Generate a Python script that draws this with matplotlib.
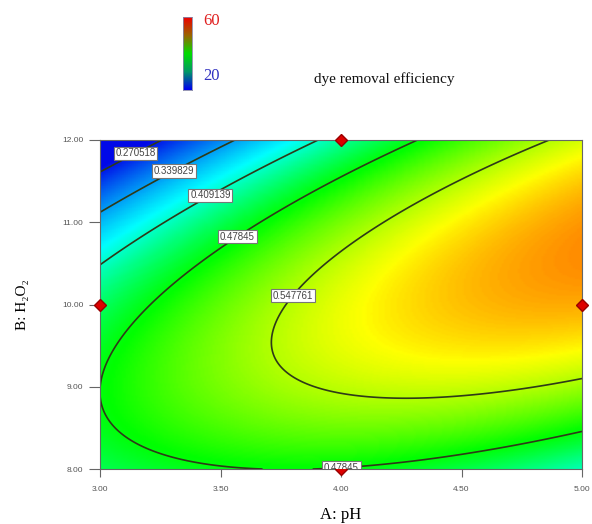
"""Contour plot of dye removal efficiency vs A: pH and B: H2O2 (quadratic response surface)."""

import numpy as np
import matplotlib

matplotlib.use("Agg")
import matplotlib.pyplot as plt
from matplotlib.colors import LinearSegmentedColormap, Normalize

# quadratic model in coded units: a = pH - 4, b = (H2O2 - 10) / 2
# terms: intercept, a, b, ab, a^2, b^2
MODEL_COEF = [0.5681, 0.0793, -0.0252, 0.0984, -0.0431, -0.1165]
PH_RANGE = [3.0, 5.0]
H2O2_RANGE = [8.0, 12.0]
LEVELS = [0.270518, 0.339829, 0.409139, 0.47845, 0.547761]
LABEL_POS = [(3.14, 11.88), (3.30, 11.66), (3.45, 11.37), (3.56, 10.87), (3.77, 10.18), (4.0, 8.11)]
DESIGN_PH = [3.0, 4.0, 5.0, 4.0]
DESIGN_H2O2 = [10.0, 12.0, 10.0, 8.0]
X_TICKS = [3.0, 3.5, 4.0, 4.5, 5.0]
Y_TICKS = [8.0, 9.0, 10.0, 11.0, 12.0]

SERIF = ["Liberation Serif", "DejaVu Serif"]
SANS = ["Liberation Sans", "DejaVu Sans"]


def response(ph, h2o2):
    a = ph - 4.0
    b = (h2o2 - 10.0) / 2.0
    c = MODEL_COEF
    return c[0] + c[1] * a + c[2] * b + c[3] * a * b + c[4] * a * a + c[5] * b * b


def main():
    ph = np.linspace(*PH_RANGE, 240)
    h = np.linspace(*H2O2_RANGE, 240)
    PH, H = np.meshgrid(ph, h)
    Z = response(PH, H)

    fig = plt.figure(figsize=(5.92, 5.24), dpi=100)
    ax = fig.add_axes([100 / 592, 55 / 524, 482 / 592, 329 / 524])

    cmap = LinearSegmentedColormap.from_list(
        "de", [(0.0, "#0008e8"), (0.32, "#00ffff"), (0.55, "#00ff00"),
               (0.78, "#ffff00"), (1.0, "#ff0000")])
    norm = Normalize(vmin=0.26, vmax=0.665)
    ax.pcolormesh(PH, H, Z, cmap=cmap, norm=norm, shading="gouraud", rasterized=True)

    cs = ax.contour(PH, H, Z, levels=LEVELS, colors="#2e3a18", linewidths=1.2)
    labels = ax.clabel(cs, fmt={lv: f"{lv:g}" for lv in LEVELS}, manual=LABEL_POS,
                       inline=False, fontsize=7, colors="#444444")
    for t in labels:
        t.set_rotation(0)
        t.set_family(SANS)
        t.set_zorder(6)
        t.set_bbox(dict(boxstyle="square,pad=0.18", fc="white", ec="#777777", lw=0.8))

    ax.plot(DESIGN_PH, DESIGN_H2O2, "D", ms=6, mfc="#dd0000", mec="#990000",
            clip_on=False, zorder=5)

    ax.set_xlim(PH_RANGE)
    ax.set_ylim(H2O2_RANGE)
    ax.set_xticks(X_TICKS)
    ax.set_yticks(Y_TICKS)
    ax.set_xticklabels([f"{v:.2f}" for v in X_TICKS], family=SANS, fontsize=6, color="#555555")
    ax.set_yticklabels([f"{v:.2f}" for v in Y_TICKS], family=SANS, fontsize=6, color="#555555")
    ax.tick_params(axis="y", direction="out", length=8, width=0.8, color="#666666", pad=4)
    ax.tick_params(axis="x", direction="out", length=6, width=0.8, color="#666666", pad=6)
    for s in ax.spines.values():
        s.set_color("#666666")
        s.set_linewidth(0.8)

    ax.set_xlabel("A: pH", family=SERIF, fontsize=12, labelpad=10)
    ax.set_ylabel("B: H\u2082O\u2082", family=SERIF, fontsize=11, labelpad=24)

    # small legend bar at the top
    cax = fig.add_axes([183 / 592, 1 - 90 / 524, 9 / 592, 73 / 524])
    bar_cmap = LinearSegmentedColormap.from_list(
        "bar", ["#0000ee", "#009966", "#00dd00", "#996600", "#ee0000"])
    cax.imshow(np.linspace(1, 0, 100)[:, None], aspect="auto", cmap=bar_cmap)
    cax.set_xticks([])
    cax.set_yticks([])
    for s in cax.spines.values():
        s.set_color("#8888aa")
        s.set_linewidth(0.6)
    fig.text(203 / 592, 1 - 21 / 524, "60", color="#e02020", family=SERIF,
             fontsize=12, va="center")
    fig.text(203 / 592, 1 - 76 / 524, "20", color="#3030c0", family=SERIF,
             fontsize=12, va="center")
    fig.text(384 / 592, 1 - 79 / 524, "dye removal efficiency", family=SERIF,
             fontsize=11, ha="center", va="center", color="#111111")

    fig.savefig("out.png")
    plt.close(fig)


if __name__ == "__main__":
    main()
